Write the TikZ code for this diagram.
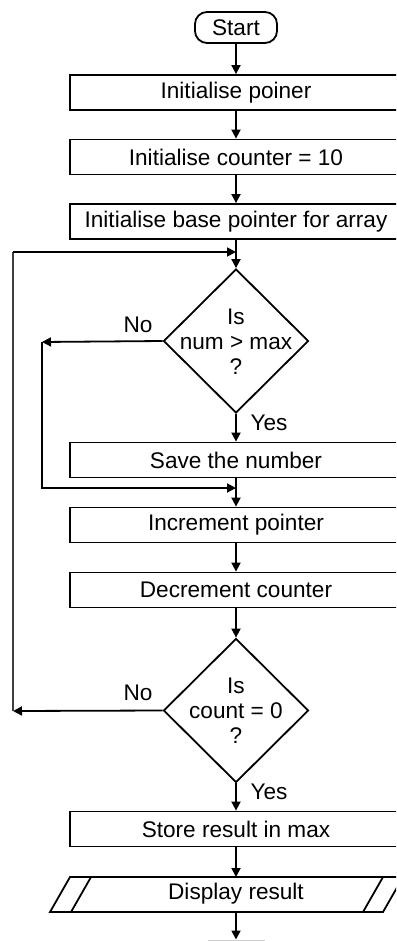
\documentclass[tikz,border=0pt]{standalone}
\usepackage{fontspec}
\setmainfont{Liberation Sans}
\usetikzlibrary{shapes.geometric,arrows.meta}
\begin{document}
\begin{tikzpicture}[x=1pt,y=-1pt,
  font=\fontsize{22.6}{25}\selectfont,
  line width=1.8pt,
  box/.style={draw, rectangle, minimum width=332pt, minimum height=35pt, inner sep=0pt},
  dec/.style={draw, diamond, minimum width=145pt, minimum height=144pt, inner sep=0pt},
  term/.style={draw, rectangle, rounded corners=12pt, minimum width=82pt, minimum height=31pt, inner sep=0pt},
  arr/.style={-{Triangle[length=9pt,width=9pt]}},
  lbl/.style={inner sep=0pt, align=center}
]
\useasboundingbox (0,0) rectangle (396,941);
\clip (0,0) rectangle (396,941);

\node[term] (start) at (236,27.5) {Start};
\node[box] (b1) at (236,92.5) {Initialise poiner};
\node[box] (b2) at (236,157) {Initialise counter = 10};
\node[box] (b3) at (236,221.5) {Initialise base pointer for array};
\node[dec] (d1) at (236,341) {};
\node[lbl] (d1t) at (236,342) {Is\\num > max\\?};
\node[box] (b4) at (236,460) {Save the number};
\node[box] (b5) at (236,525) {Increment pointer};
\node[box] (b6) at (236,590) {Decrement counter};
\node[dec] (d2) at (236,710.5) {};
\node[lbl] (d2t) at (236,711) {Is\\count = 0\\?};
\node[box] (b7) at (236,829) {Store result in max};

% display (input/output) parallelogram
\draw (50,912) -- (70,877) -- (403,877) -- (383,912) -- cycle;
\draw (71,912) -- (91,877);
\draw (363,912) -- (383,877);
\node[lbl] (disp) at (236,894) {Display result};
\coordinate (distop) at (236,877);
\coordinate (disbot) at (236,912);
\coordinate (nextbox) at (236,939.5);

% labels
\node[lbl] (no1) at (138,325) {No};
\node[lbl] (yes1) at (269,423) {Yes};
\node[lbl] (no2) at (138,693) {No};
\node[lbl] (yes2) at (269,792) {Yes};

% junction coordinates
\coordinate (j1) at (236,252);
\coordinate (j2) at (236,488);
\coordinate (l1) at (42,342);
\coordinate (l2) at (13,711);
\coordinate (l2top) at (13,252);

% main flow
\draw[arr] (start) -- (b1);
\draw[arr] (b1) -- (b2);
\draw[arr] (b2) -- (b3);
\draw[arr] (b3) -- (d1.north);
\draw[arr] (d1.south) -- (b4);
\draw[arr] (b4) -- (b5);
\draw[arr] (b5) -- (b6);
\draw[arr] (b6) -- (d2.north);
\draw[arr] (d2.south) -- (b7);
\draw[arr] (b7) -- (distop);
\draw[arr] (disbot) -- (nextbox);

% No branch of first decision
\draw[arr] (d1.west) -- (l1);
\draw[arr] (l1) |- (j2);

% No branch of second decision (loop back)
\draw[arr] (d2.west) -- (l2);
\draw[line width=1.1pt, black!75] (l2) -- (l2top);
\draw[arr] (l2top) -- (j1);

% top edge of the next (cut off) box
\draw[gray!40, line width=1pt] (208,940.5) -- (265,940.5);
\end{tikzpicture}
\end{document}
